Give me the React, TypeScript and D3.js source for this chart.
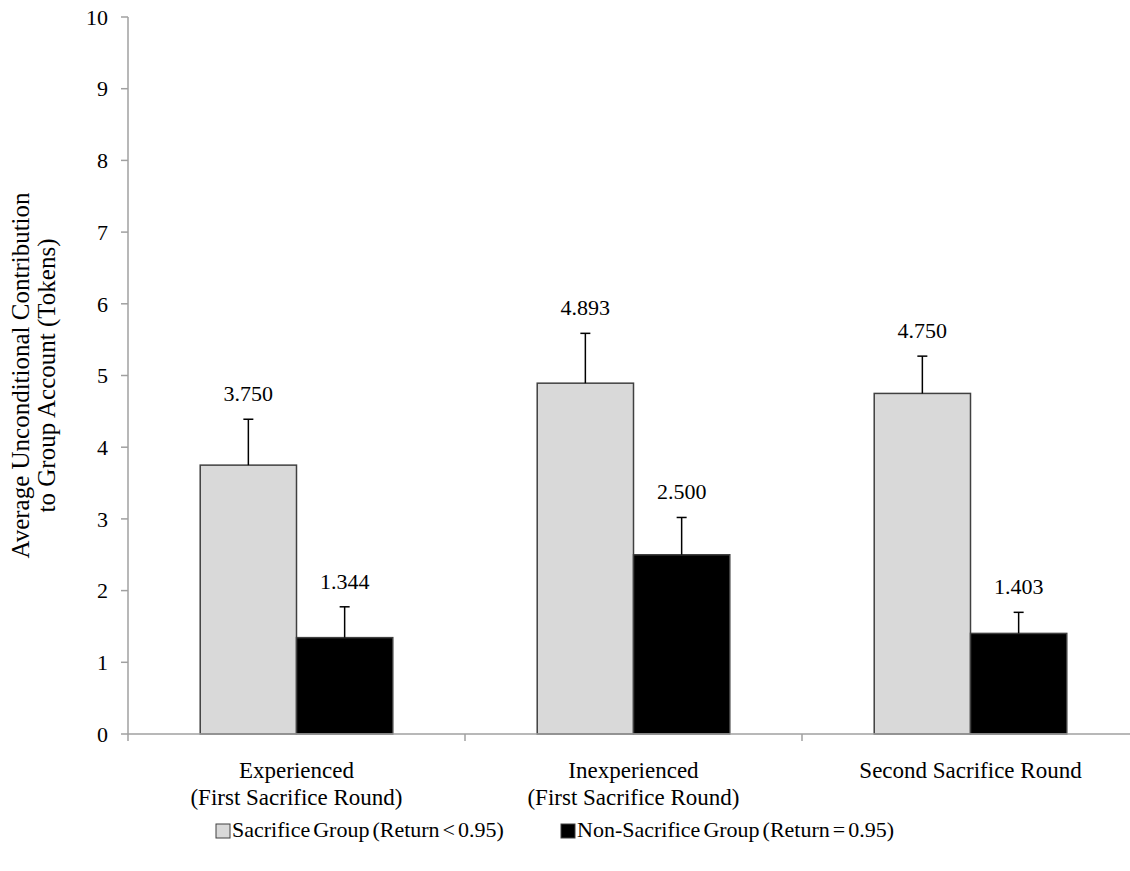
import React from "react";
import * as d3 from "d3";

const categories = [
  ["Experienced", "(First Sacrifice Round)"],
  ["Inexperienced", "(First Sacrifice Round)"],
  ["Second Sacrifice Round"],
];
const seriesNames = ["Sacrifice Group (Return < 0.95)", "Non-Sacrifice Group (Return = 0.95)"];
const sacrifice = [3.75, 4.893, 4.75];
const nonSacrifice = [1.344, 2.5, 1.403];
const sacrificeErr = [0.64, 0.695, 0.52];
const nonSacrificeErr = [0.43, 0.52, 0.294];
const yTicks = [0, 1, 2, 3, 4, 5, 6, 7, 8, 9, 10];

const W = 1130;
const H = 871;
const FONT = '"Liberation Serif", "DejaVu Serif", serif';

export default function App() {
  const left = 128;
  const right = 1139;
  const top = 17;
  const bottom = 734;
  const y = d3.scaleLinear().domain([0, 10]).range([bottom, top]);
  const x = d3.scaleBand<number>().domain([0, 1, 2]).range([left, right]).paddingInner(0).paddingOuter(0);
  const band = x.bandwidth();
  const groupW = (band * 2) / 3.5;
  const x1 = d3.scaleBand<number>().domain([0, 1]).range([0, groupW]);
  const fills = ["#d9d9d9", "#000000"];
  const strokes = ["#404040", "#404040"];
  const data = [sacrifice, nonSacrifice];
  const errs = [sacrificeErr, nonSacrificeErr];
  const fs = 22;

  return (
    <svg width={W} height={H} style={{ position: "absolute", left: 0, top: 0, background: "#fff", fontFamily: FONT }}>
      {/* y axis title */}
      <text transform={`translate(29,${(top + bottom) / 2}) rotate(-90)`} textAnchor="middle" fontSize={25} fill="#000" style={{ fontFamily: FONT }}>
        <tspan x={0} dy={0}>Average Unconditional Contribution</tspan>
        <tspan x={0} dy={26}>to Group Account (Tokens)</tspan>
      </text>
      {/* y ticks */}
      {yTicks.map((t) => (
        <g key={t}>
          <line x1={left - 7} x2={left} y1={y(t)} y2={y(t)} stroke="#a0a0a0" strokeWidth={1.5} />
          <text x={left - 20} y={y(t)} dy="0.35em" textAnchor="end" fontSize={fs} style={{ fontFamily: FONT }}>
            {t}
          </text>
        </g>
      ))}
      <line x1={left} x2={left} y1={top} y2={bottom} stroke="#a0a0a0" strokeWidth={1.5} />
      {/* bars */}
      {data.map((series, s) =>
        series.map((v, i) => {
          const bx = (x(i) as number) + (band - groupW) / 2 + (x1(s) as number);
          const bw = x1.bandwidth();
          const cx = bx + bw / 2;
          const capY = y(v + errs[s][i]);
          return (
            <g key={`${s}-${i}`}>
              <rect x={bx} y={y(v)} width={bw} height={bottom - y(v)} fill={fills[s]} stroke={strokes[s]} strokeWidth={1.5} />
              <line x1={cx} x2={cx} y1={y(v)} y2={capY} stroke="#000" strokeWidth={1.5} />
              <line x1={cx - 5} x2={cx + 5} y1={capY} y2={capY} stroke="#000" strokeWidth={1.5} />
              <text x={cx} y={capY - 26} dy="0.35em" textAnchor="middle" fontSize={fs} style={{ fontFamily: FONT }}>
                {v.toFixed(3)}
              </text>
            </g>
          );
        })
      )}
      {/* x axis */}
      <line x1={left} x2={right} y1={bottom} y2={bottom} stroke="#a0a0a0" strokeWidth={1.5} />
      {[0, 1, 2].map((i) => (
        <line key={i} x1={x(i) as number} x2={x(i) as number} y1={bottom} y2={bottom + 7} stroke="#a0a0a0" strokeWidth={1.5} />
      ))}
      {categories.map((lines, i) => (
        <text key={i} x={(x(i) as number) + band / 2} y={778} dy="0.35em" textAnchor="middle" fontSize={23} style={{ fontFamily: FONT }}>
          {lines.map((l, j) => (
            <tspan key={j} x={(x(i) as number) + band / 2} dy={j === 0 ? 0 : 27}>
              {l}
            </tspan>
          ))}
        </text>
      ))}
      {/* legend */}
      {seriesNames.map((name, s) => {
        const lx = s === 0 ? 216 : 561;
        return (
          <g key={s}>
            <rect x={lx} y={824} width={14} height={14} fill={fills[s]} stroke={strokes[s]} strokeWidth={1} />
            <text x={lx + 16} y={837} fontSize={22} wordSpacing={-2.5} style={{ fontFamily: FONT }}>
              {name}
            </text>
          </g>
        );
      })}
    </svg>
  );
}
